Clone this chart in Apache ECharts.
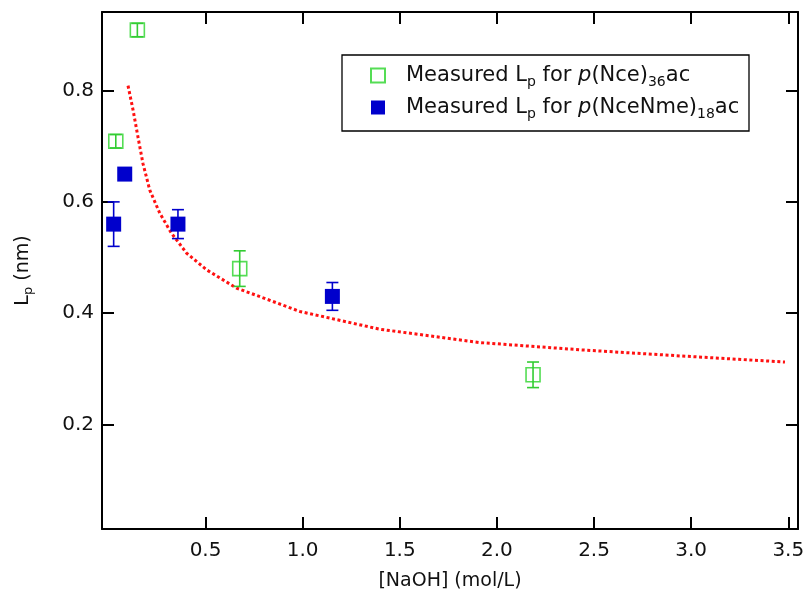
<!DOCTYPE html>
<html>
<head>
<meta charset="utf-8">
<script src="https://cdn.jsdelivr.net/npm/echarts@6/dist/echarts.min.js"></script>
<style>
  html, body { margin: 0; padding: 0; background: #fff; }
  #chart { width: 808px; height: 598px; }
</style>
</head>
<body>
<div id="chart"></div>
<script>
// p(Nce)36ac - open green squares
const nceX = [0.149, 0.038, 0.676, 2.186];
const nceY = [0.909, 0.709, 0.480, 0.289];
const nceErr = [0.012, 0.012, 0.032, 0.023];
// p(NceNme)18ac - filled blue squares
const nmeX = [0.027, 0.084, 0.358, 1.153];
const nmeY = [0.560, 0.650, 0.560, 0.430];
const nmeErr = [0.040, 0.010, 0.026, 0.025];
// red dotted fit curve
const fitX = [0.101, 0.127, 0.152, 0.178, 0.213, 0.264, 0.324, 0.402, 0.505, 0.659, 0.80, 0.985, 1.397, 1.912, 2.427, 2.942, 3.483];
const fitY = [0.809, 0.765, 0.717, 0.669, 0.621, 0.580, 0.544, 0.508, 0.478, 0.445, 0.427, 0.403, 0.371, 0.347, 0.334, 0.323, 0.312];
// tick labels
const xTicks = [0.5, 1.0, 1.5, 2.0, 2.5, 3.0, 3.5];
const yTicks = [0.2, 0.4, 0.6, 0.8];

const FONT = "DejaVu Sans";
const GREEN = "#33cc33";
const BLUE = "#0000cc";

function pts(xs, ys) {
  return xs.map((x, i) => [x, ys[i]]);
}
function errData(xs, ys, es) {
  return xs.map((x, i) => [x, ys[i] - es[i], ys[i] + es[i]]);
}
function errRender(color) {
  return function (params, api) {
    const x = api.value(0);
    const lo = api.coord([x, api.value(1)]);
    const hi = api.coord([x, api.value(2)]);
    const hw = 6;
    const st = { stroke: color, lineWidth: 1.6 };
    return {
      type: "group",
      children: [
        { type: "line", shape: { x1: lo[0], y1: lo[1], x2: hi[0], y2: hi[1] }, style: st },
        { type: "line", shape: { x1: lo[0] - hw, y1: lo[1], x2: lo[0] + hw, y2: lo[1] }, style: st },
        { type: "line", shape: { x1: hi[0] - hw, y1: hi[1], x2: hi[0] + hw, y2: hi[1] }, style: st },
      ],
    };
  };
}

const legendNames = {
  nce: "{n|Measured L}{s|p}{n| for }{i|p}{n|(Nce)}{s|36}{n|ac}",
  nme: "{n|Measured L}{s|p}{n| for }{i|p}{n|(NceNme)}{s|18}{n|ac}",
};

const axisLine = { show: true, onZero: false, lineStyle: { color: "#000", width: 2 } };
const tickStyle = { color: "#000", width: 2 };

const chart = echarts.init(document.getElementById("chart"));
const option = {
  animation: false,
  backgroundColor: "#fff",
  textStyle: { fontFamily: FONT },
  grid: { left: 102, right: 10, top: 12, bottom: 69 },
  graphic: [
    {
      type: "rect",
      shape: { x: 342, y: 55, width: 407, height: 76 },
      style: { fill: "none", stroke: "#000", lineWidth: 1.3 },
      z: 10,
    },
  ],
  legend: {
    orient: "vertical",
    left: 365,
    top: 60,
    itemWidth: 14,
    itemHeight: 14,
    itemGap: 8,
    icon: "rect",
    formatter: (name) => legendNames[name],
    textStyle: {
      padding: [0, 0, 0, 16],
      rich: {
        n: { fontFamily: FONT, fontSize: 21, color: "#111" },
        i: { fontFamily: FONT, fontSize: 21, fontStyle: "italic", color: "#111" },
        s: { fontFamily: FONT, fontSize: 14, color: "#111", padding: [13, 0, 0, 0] },
      },
    },
    data: ["nce", "nme"],
  },
  xAxis: [
    {
      type: "value",
      min: -0.033,
      max: 3.55,
      name: "[NaOH] (mol/L)",
      nameLocation: "middle",
      nameGap: 43,
      nameTextStyle: { fontFamily: FONT, fontSize: 19, color: "#111" },
      axisLine: axisLine,
      splitLine: { show: false },
      axisTick: { inside: true, length: 12, lineStyle: tickStyle, customValues: xTicks },
      axisLabel: {
        customValues: xTicks,
        margin: 12,
        fontFamily: FONT,
        fontSize: 20,
        color: "#111",
        formatter: (v) => v.toFixed(1),
      },
    },
    {
      type: "value",
      position: "top",
      min: -0.033,
      max: 3.55,
      axisLine: axisLine,
      splitLine: { show: false },
      axisTick: { inside: true, length: 12, lineStyle: tickStyle, customValues: xTicks },
      axisLabel: { show: false },
    },
  ],
  yAxis: [
    {
      type: "value",
      min: 0.0117,
      max: 0.9415,
      name: "{n|L}{s|p}{n| (nm)}",
      nameLocation: "middle",
      nameGap: 67,
      nameTextStyle: {
        rich: {
          n: { fontFamily: FONT, fontSize: 19, color: "#111" },
          s: { fontFamily: FONT, fontSize: 13, color: "#111", padding: [11, 0, 0, 0] },
        },
      },
      axisLine: axisLine,
      splitLine: { show: false },
      axisTick: { inside: true, length: 12, lineStyle: tickStyle, customValues: yTicks },
      axisLabel: {
        customValues: yTicks,
        margin: 8,
        fontFamily: FONT,
        fontSize: 20,
        color: "#111",
        formatter: (v) => v.toFixed(1),
      },
    },
    {
      type: "value",
      position: "right",
      min: 0.0117,
      max: 0.9415,
      axisLine: axisLine,
      splitLine: { show: false },
      axisTick: { inside: true, length: 12, lineStyle: tickStyle, customValues: yTicks },
      axisLabel: { show: false },
    },
  ],
  series: [
    {
      name: "fit",
      type: "line",
      data: pts(fitX, fitY),
      showSymbol: false,
      lineStyle: { color: "#ff1111", width: 3, type: [3, 2.6] },
      z: 1,
    },
    {
      name: "nce",
      type: "scatter",
      data: pts(nceX, nceY),
      symbol: "rect",
      symbolSize: 14,
      itemStyle: { color: "rgba(255,255,255,0)", borderColor: "#55dd55", borderWidth: 1.6, opacity: 1 },
      z: 2,
    },
    {
      name: "nceErr",
      type: "custom",
      data: errData(nceX, nceY, nceErr),
      renderItem: errRender(GREEN),
      encode: { x: 0, y: [1, 2] },
      z: 3,
    },
    {
      name: "nmeErr",
      type: "custom",
      data: errData(nmeX, nmeY, nmeErr),
      renderItem: errRender(BLUE),
      encode: { x: 0, y: [1, 2] },
      z: 3,
    },
    {
      name: "nme",
      type: "scatter",
      data: pts(nmeX, nmeY),
      symbol: "rect",
      symbolSize: 15,
      itemStyle: { color: BLUE, opacity: 1 },
      z: 4,
    },
  ],
};
chart.setOption(option);
</script>
</body>
</html>
